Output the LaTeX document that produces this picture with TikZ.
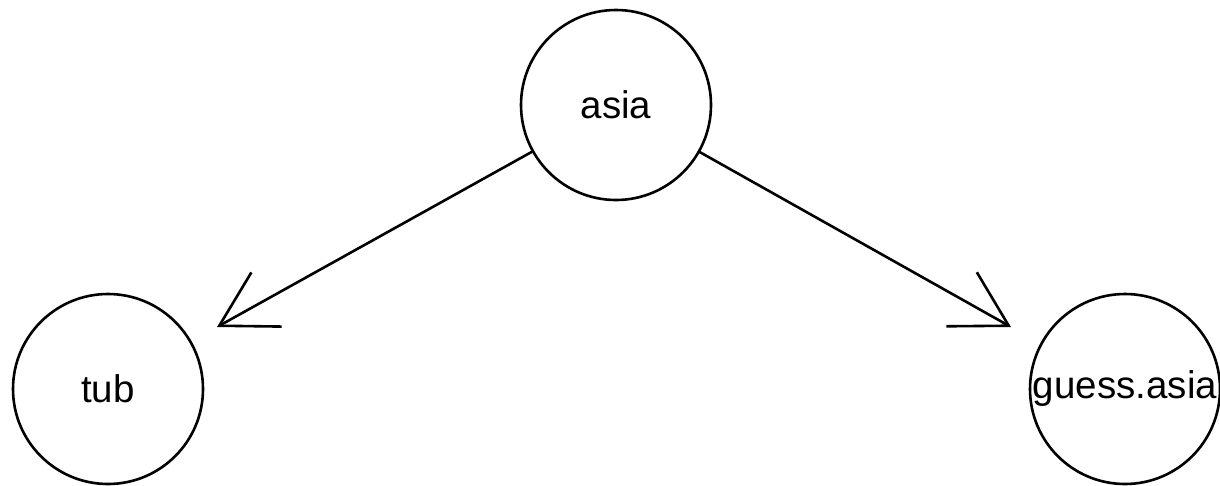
\documentclass[tikz,border=0pt]{standalone}
\usepackage{fontspec}
\setmainfont{Liberation Sans}
\usetikzlibrary{arrows.meta}
\begin{document}
\begin{tikzpicture}[x=1pt,y=-1pt,
  vertex/.style={draw=black, circle, line width=2.6pt, minimum size=190pt,
    inner sep=0pt, outer sep=0pt, font=\fontsize{38.5}{46}\selectfont},
  edge/.style={draw=black, line width=2.6pt,
    -{Straight Barb[length=54pt, width=62pt, line width=2.6pt]}}]
  % canvas
  \useasboundingbox (0,0) rectangle (1220,485);
  % vertices
  \node[vertex] (asia) at (616,105) {asia};
  \node[vertex] (tub) at (108,389) {tub};
  \node[vertex] (guess) at (1125,389) {guess.asia};
  % edge end points (arrow tips stop short of the target circles)
  \coordinate (tubtip) at (217,327);
  \coordinate (guesstip) at (1011,327);
  % edges
  \draw[edge] (asia) -- (tubtip);
  \draw[edge] (asia) -- (guesstip);
\end{tikzpicture}
\end{document}
